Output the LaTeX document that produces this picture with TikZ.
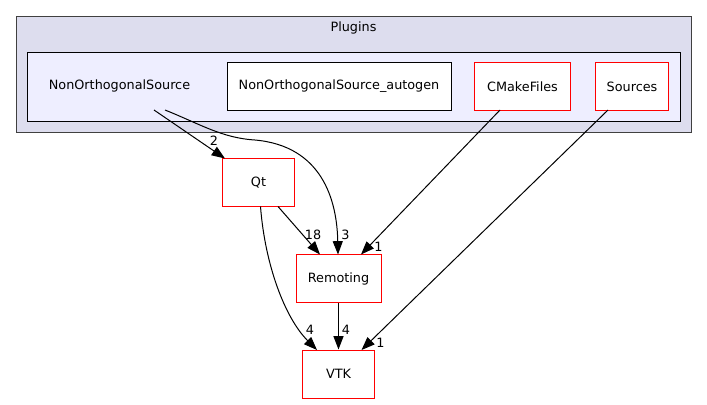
\documentclass[tikz,border=0pt]{standalone}
\usepackage{fontspec}
\setmainfont{DejaVu Sans}
\usetikzlibrary{arrows.meta}
\definecolor{outerfill}{HTML}{DDDDEE}
\definecolor{innerfill}{HTML}{EEEEFF}
\definecolor{outerline}{HTML}{404040}
\tikzset{
  px/.style={x=0.75pt,y=-0.75pt},
  txt/.style={font=\fontsize{9.6}{11}\selectfont},
  dirbox/.style={draw=red, fill=white, line width=0.75pt, inner sep=0pt, txt},
  plainbox/.style={draw=black, fill=white, line width=0.75pt, inner sep=0pt, txt},
  lbl/.style={inner sep=0pt, txt},
  dep/.style={draw=black, line width=0.75pt, -{Triangle[length=10pt,width=7.5pt]}},
}
\begin{document}
\begin{tikzpicture}[px]
\useasboundingbox (0,0) rectangle (707,404);
% clusters
\node[draw=outerline, fill=outerfill, line width=0.75pt, minimum width=675*0.75pt, minimum height=116*0.75pt, inner sep=0pt] (plugins) at (353.5,74) {};
\node[lbl] (pluginslbl) at (353.5,27.5) {Plugins};
\node[draw=black, fill=innerfill, line width=0.75pt, minimum width=653*0.75pt, minimum height=69*0.75pt, inner sep=0pt] (inner) at (353.5,86.5) {};
\node[lbl] (nos) at (119.5,86) {NonOrthogonalSource};
\coordinate (nosA) at (154,110);
\coordinate (nosB) at (165,110);
% nodes
\node[plainbox, minimum width=224*0.75pt, minimum height=48*0.75pt] (autogen) at (339,86.5) {NonOrthogonalSource\_autogen};
\node[dirbox, minimum width=96*0.75pt, minimum height=48*0.75pt] (cmake) at (522.5,86.5) {CMakeFiles};
\node[dirbox, minimum width=73*0.75pt, minimum height=48*0.75pt] (sources) at (632,86.5) {Sources};
\node[dirbox, minimum width=72*0.75pt, minimum height=48*0.75pt] (qt) at (258.5,182.5) {Qt};
\node[dirbox, minimum width=85*0.75pt, minimum height=47.5*0.75pt] (remoting) at (338.5,278.5) {Remoting};
\node[dirbox, minimum width=72*0.75pt, minimum height=48*0.75pt] (vtk) at (338.5,374) {VTK};
% edge end points
\coordinate (cmA) at (500,110);
\coordinate (srcA) at (608,110);
\coordinate (qtA) at (278,206.5);
\coordinate (qtB) at (260.5,206.5);
\coordinate (qtTip) at (225,158.5);
\coordinate (remTipA) at (320,254.5);
\coordinate (remTipB) at (338,254.5);
\coordinate (remTipC) at (361,254.5);
\coordinate (vtkTipA) at (317,350);
\coordinate (vtkTipB) at (361.5,350);
% edges
\draw[dep] (nosA) -- (qtTip);
\node[lbl] (l1) at (214,140.5) {2};
\draw[dep] (nosB) .. controls (200,124) and (222,138) .. (255,140) .. controls (322,146) and (337,200) .. (remTipB);
\node[lbl] (l2) at (345.5,234.5) {3};
\draw[dep] (cmA) -- (remTipC);
\node[lbl] (l3) at (378.5,246.5) {1};
\draw[dep] (qtA) -- (remTipA);
\node[lbl] (l4) at (313,234.5) {18};
\draw[dep] (qtB) .. controls (265,265) and (285,318) .. (vtkTipA);
\node[lbl] (l5) at (310,330) {4};
\draw[dep] (remoting.south) -- (remoting.south |- vtk.north);
\node[lbl] (l6) at (346,330) {4};
\draw[dep] (srcA) -- (vtkTipB);
\node[lbl] (l7) at (380.5,342.5) {1};
\end{tikzpicture}
\end{document}
